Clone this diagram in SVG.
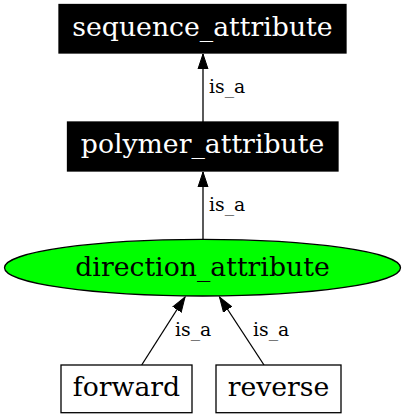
<svg xmlns="http://www.w3.org/2000/svg" width="405" height="419" viewBox="0 0 405 419">
<style>
.box{stroke:#000;stroke-width:1.3}
.dark{fill:#000}
.light{fill:#fff}
.lbl{font-family:"DejaVu Serif",serif;font-size:26.7px;text-anchor:middle}
.elbl{font-family:"DejaVu Serif",serif;font-size:18.8px;fill:#000}
.edge{stroke:#000;stroke-width:1.3;fill:none}
</style>
<defs>
<marker id="arr" markerUnits="userSpaceOnUse" markerWidth="16" markerHeight="12" refX="15" refY="5" orient="auto" viewBox="0 0 16 10">
<path d="M0,0 L15,5 L0,10 z" fill="#000" stroke="#000" stroke-width="1"/>
</marker>
</defs>
<rect width="405" height="419" fill="#fff"/>
<g id="edges">
<line class="edge" x1="203" y1="122" x2="203" y2="54" marker-end="url(#arr)"/>
<text class="elbl" x="209" y="93">is_a</text>
<line class="edge" x1="203" y1="239.5" x2="203" y2="172" marker-end="url(#arr)"/>
<text class="elbl" x="209" y="211">is_a</text>
<line class="edge" x1="141.7" y1="365" x2="185" y2="297" marker-end="url(#arr)"/>
<text class="elbl" x="175" y="336">is_a</text>
<line class="edge" x1="264" y1="365" x2="219.5" y2="297" marker-end="url(#arr)"/>
<text class="elbl" x="253" y="336">is_a</text>
</g>
<g id="sequence_attribute">
<rect class="box dark" x="59" y="4.5" width="287" height="48.5"/>
<text class="lbl" x="202.5" y="36" fill="#fff">sequence_attribute</text>
</g>
<g id="polymer_attribute">
<rect class="box dark" x="67.5" y="122" width="270.5" height="49"/>
<text class="lbl" x="202.5" y="153" fill="#fff">polymer_attribute</text>
</g>
<g id="direction_attribute">
<ellipse class="box" cx="202.5" cy="267.7" rx="198" ry="28.3" fill="#00ff00"/>
<text class="lbl" x="202.5" y="276" fill="#000">direction_attribute</text>
</g>
<g id="forward">
<rect class="box light" x="61" y="365" width="131" height="47.7"/>
<text class="lbl" x="126.5" y="396" fill="#000">forward</text>
</g>
<g id="reverse">
<rect class="box light" x="216" y="365" width="125" height="47.7"/>
<text class="lbl" x="278.5" y="396" fill="#000">reverse</text>
</g>
</svg>
